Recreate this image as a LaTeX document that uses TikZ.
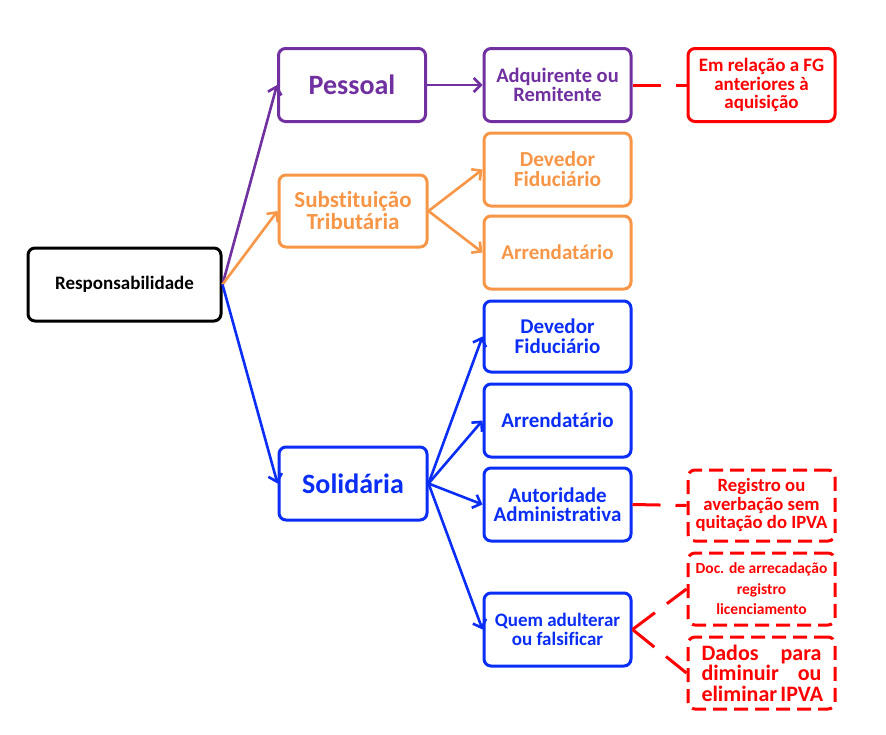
\documentclass[tikz,border=0pt]{standalone}
\usepackage{fontspec}
\setmainfont{Carlito}[Ligatures=NoCommon]
\usetikzlibrary{arrows.meta}
\definecolor{cpurple}{HTML}{7030A0}
\definecolor{corange}{HTML}{F79646}
\definecolor{cblue}{HTML}{0A2EF5}
\definecolor{cred}{HTML}{FF0000}
\newcommand{\fs}[2]{\bfseries\fontsize{#1}{#2}\selectfont}
\newcommand{\sline}[1]{\makebox[120pt][s]{#1}}
\begin{document}
\begin{tikzpicture}[x=1pt,y=-1pt,
  box/.style={draw, line width=3pt, rounded corners=7pt, fill=white, align=center, inner sep=1pt,
     minimum width=147pt, minimum height=73pt, font=\fs{20.5}{19}},
  pbox/.style={box, draw=cpurple, text=cpurple},
  obox/.style={box, draw=corange, text=corange},
  bbox/.style={box, draw=cblue, text=cblue},
  rbox/.style={box, draw=cred, text=cred},
  rdbox/.style={rbox, dash pattern=on 14pt off 7pt},
  arr/.style={line width=2.6pt, -{Straight Barb[length=7pt,width=14pt,line width=2.6pt]}},
  rline/.style={draw=cred, line width=3pt, dash pattern=on 28pt off 15pt}
]
\useasboundingbox (0,0) rectangle (886,734);
\fill[white] (0,0) rectangle (886,734);

\node[box, draw=black, minimum width=193pt, font=\fs{19}{21}] (resp) at (124.5,284.5) {Responsabilidade};

\node[pbox, font=\fs{28}{30}] (pes) at (352,85) {Pessoal};
\node[pbox, font=\fs{20.5}{19}] (adq) at (557.5,85) {Adquirente ou\\Remitente};
\node[rbox, font=\fs{19}{18.5}] (emr) at (761.5,85) {Em relação a FG\\anteriores à\\aquisição};

\node[obox, minimum width=148pt, minimum height=72pt, font=\fs{23}{22}] (sub) at (353,211) {Substituição\\Tributária};
\node[obox, font=\fs{21.4}{20}] (devo) at (557.5,169.5) {Devedor\\Fiduciário};
\node[obox, font=\fs{21}{20}] (arro) at (557.5,252.5) {Arrendatário};

\node[bbox, minimum width=148pt, font=\fs{28}{30}] (sol) at (353,483.5) {Solidária};
\node[bbox, minimum height=71pt, font=\fs{21}{20}] (devb) at (557.5,336.5) {Devedor\\Fiduciário};
\node[bbox, font=\fs{21}{20}] (arrb) at (557.5,420.5) {Arrendatário};
\node[bbox, font=\fs{21}{19}] (aut) at (557.5,504.5) {Autoridade\\Administrativa};
\node[bbox, font=\fs{19}{19}] (que) at (557.5,629.5) {Quem adulterar\\ou falsificar};

\node[rdbox, minimum height=71pt, font=\fs{18.7}{18.5}] (reg) at (761.5,505.5) {Registro ou\\averbação sem\\quitação do IPVA};
\node[rdbox, minimum height=72pt, font=\fs{15.5}{20.5}] (doc) at (761.5,589) {Doc. de arrecadação\\registro\\licenciamento};
\node[rdbox, minimum height=72pt, font=\fs{22}{20.5}] (dad) at (761.5,673) {\sline{Dados para}\\\sline{diminuir ou}\\\sline{eliminar IPVA}};

\draw[arr, cpurple] (resp.east) -- (pes.west);
\draw[arr, corange] (resp.east) -- (sub.west);
\draw[arr, cblue] (resp.east) -- (sol.west);

\draw[arr, cpurple] (pes.east) -- (adq.west);
\draw[arr, corange] (sub.east) -- (devo.west);
\draw[arr, corange] (sub.east) -- (arro.west);

\draw[arr, cblue] (sol.east) -- (devb.west);
\draw[arr, cblue] (sol.east) -- (arrb.west);
\draw[arr, cblue] (sol.east) -- (aut.west);
\draw[arr, cblue] (sol.east) -- (que.west);

\draw[rline] (adq.east) -- (emr.west);
\draw[rline] (aut.east) -- (reg.west);
\draw[rline] (que.east) -- (doc.west);
\draw[rline] (que.east) -- (dad.west);
\end{tikzpicture}
\end{document}
